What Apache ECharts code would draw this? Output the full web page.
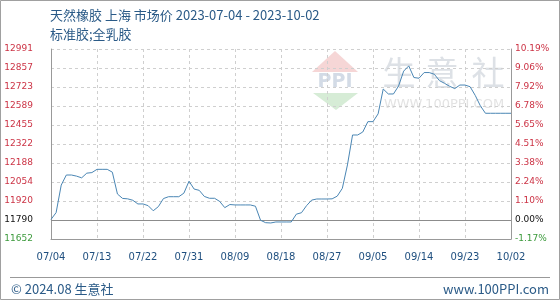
<!DOCTYPE html>
<html>
<head>
<meta charset="utf-8">
<script src="https://cdn.jsdelivr.net/npm/echarts@6/dist/echarts.min.js"></script>
<style>
html,body{margin:0;padding:0;background:#fff;}
#chart{width:560px;height:300px;}
</style>
</head>
<body>
<div id="chart"></div>
<script>
// ---- data ----
const dates = [
 '07/04','07/05','07/06','07/07','07/08','07/09','07/10','07/11','07/12','07/13','07/14','07/15','07/16','07/17','07/18','07/19','07/20','07/21','07/22','07/23','07/24','07/25','07/26','07/27','07/28','07/29','07/30','07/31',
 '08/01','08/02','08/03','08/04','08/05','08/06','08/07','08/08','08/09','08/10','08/11','08/12','08/13','08/14','08/15','08/16','08/17','08/18','08/19','08/20','08/21','08/22','08/23','08/24','08/25','08/26','08/27','08/28','08/29','08/30','08/31',
 '09/01','09/02','09/03','09/04','09/05','09/06','09/07','09/08','09/09','09/10','09/11','09/12','09/13','09/14','09/15','09/16','09/17','09/18','09/19','09/20','09/21','09/22','09/23','09/24','09/25','09/26','09/27','09/28','09/29','09/30',
 '10/01','10/02'
];
const prices = [
 11790,11838,12032,12103,12103,12095,12083,12116,12120,12143,12143,12143,12123,11969,11938,11935,11925,11899,11899,11887,
 11851,11880,11937,11950,11950,11950,11975,12059,12004,11995,11952,11939,11939,11917,11873,11895,11892,11892,11892,11892,
 11883,11784,11767,11765,11772,11772,11772,11772,11827,11837,11887,11926,11934,11934,11934,11935,11954,12009,12174,12385,
 12385,12406,12479,12479,12534,12709,12674,12674,12730,12835,12872,12790,12785,12825,12825,12813,12768,12749,12728,12712,
 12737,12737,12725,12664,12591,12538,12538,12538,12538,12538,12538
];
const leftLabels = ['11652','11790','11920','12054','12188','12322','12455','12589','12723','12857','12991'];
const rightLabels = ['-1.17%','0.00%','1.10%','2.24%','3.38%','4.51%','5.65%','6.78%','7.92%','9.06%','10.19%'];
const titleLine1 = '天然橡胶 上海 市场价 2023-07-04 - 2023-10-02';
const titleLine2 = '标准胶;全乳胶';
const footerLeft = '© 2024.08 生意社';
const footerRight = 'www.100PPI.com';

// ---- chart ----
const Y_MIN = +leftLabels[0];
const Y_MAX = +leftLabels[leftLabels.length - 1];
const STEP = (Y_MAX - Y_MIN) / (leftLabels.length - 1);
const seriesData = prices.map(p => p - Y_MIN);

const labelFont = 'DejaVu Sans';
function richFor(i, arr) {
  const c = i === 0 ? 'g' : (i === 1 ? 'k' : 'r');
  return '{' + c + '|' + arr[i] + '}';
}
const rich = {
  r: {color: '#cc3345', fontFamily: labelFont, fontSize: 9},
  k: {color: '#111111', fontFamily: labelFont, fontSize: 9},
  g: {color: '#3c9a3c', fontFamily: labelFont, fontSize: 9}
};
const gridDash = {color: '#cfcfcf', type: [3, 3], width: 1};

const chart = echarts.init(document.getElementById('chart'), null, {renderer: 'canvas'});
chart.setOption({
  animation: false,
  backgroundColor: '#fff',
  grid: {left: 51, right: 49, top: 49, bottom: 61},
  xAxis: {
    type: 'category', data: dates, boundaryGap: false,
    axisLine: {show: true, lineStyle: {color: '#999'}},
    axisTick: {show: false},
    axisLabel: {interval: 8, color: '#1f4f7f', fontFamily: labelFont, fontSize: 10, margin: 13},
    splitLine: {show: true, interval: 8, lineStyle: gridDash}
  },
  yAxis: [
    {
      type: 'value', min: 0, max: Y_MAX - Y_MIN, interval: STEP, position: 'left',
      axisLine: {show: true, lineStyle: {color: '#999'}},
      axisTick: {show: false},
      axisLabel: {align: 'right', margin: 18, formatter: v => richFor(Math.round(v / STEP), leftLabels), rich: rich},
      splitLine: {show: true, lineStyle: gridDash}
    },
    {
      type: 'value', min: 0, max: Y_MAX - Y_MIN, interval: STEP, position: 'right',
      axisLine: {show: true, lineStyle: {color: '#999'}},
      axisTick: {show: false},
      axisLabel: {align: 'left', margin: 4, formatter: v => richFor(Math.round(v / STEP), rightLabels), rich: rich},
      splitLine: {show: false}
    }
  ],
  series: [{
    type: 'line', data: seriesData, yAxisIndex: 0, showSymbol: false, symbol: 'none',
    lineStyle: {color: '#4a86b4', width: 1}, z: 5,
    markLine: {
      silent: true, symbol: 'none', label: {show: false},
      lineStyle: {color: '#8c8c8c', type: 'solid', width: 1},
      data: [{yAxis: STEP}]
    }
  }],
  graphic: [
    // watermark
    {type: 'polygon', z: 0, shape: {points: [[312, 72], [335, 51], [358, 72]]}, style: {fill: '#f6d6d6'}},
    {type: 'text', z: 0, style: {text: 'PPI', x: 335, y: 82, align: 'center', verticalAlign: 'middle', fontFamily: 'DejaVu Sans', fontWeight: 'bold', fontSize: 19, fill: '#d3dbe6'}},
    {type: 'polygon', z: 0, shape: {points: [[313, 93], [358, 93], [336, 110]]}, style: {fill: '#d6ecd6'}},
    {type: 'text', z: 0, style: {text: '生', x: 399, y: 72, align: 'center', verticalAlign: 'middle', fontFamily: 'Noto Sans CJK SC', fontSize: 33, fill: '#dde1e6'}},
    {type: 'text', z: 0, style: {text: '意', x: 442, y: 72, align: 'center', verticalAlign: 'middle', fontFamily: 'Noto Sans CJK SC', fontSize: 33, fill: '#dde1e6'}},
    {type: 'text', z: 0, style: {text: '社', x: 488, y: 72, align: 'center', verticalAlign: 'middle', fontFamily: 'Noto Sans CJK SC', fontSize: 33, fill: '#dde1e6'}},
    {type: 'text', z: 0, style: {text: 'WWW.100PPI.COM', x: 444, y: 105, align: 'center', verticalAlign: 'middle', fontFamily: 'DejaVu Sans', fontSize: 13, fill: '#e3e3e3'}},
    // titles
    {type: 'text', style: {text: titleLine1, x: 50, y: 15, verticalAlign: 'middle', fontFamily: 'Noto Sans CJK SC', fontSize: 13, fill: '#2a5a87'}},
    {type: 'text', style: {text: titleLine2, x: 50, y: 34, verticalAlign: 'middle', fontFamily: 'Noto Sans CJK SC', fontSize: 13, fill: '#2a5a87'}},
    // footer
    {type: 'line', shape: {x1: 10, y1: 277.5, x2: 550, y2: 277.5}, style: {stroke: '#999', lineWidth: 1}},
    {type: 'text', style: {text: footerLeft, x: 11, y: 289, verticalAlign: 'middle', fontFamily: 'Noto Sans CJK SC', fontSize: 13, fill: '#2a5a87'}},
    {type: 'text', style: {text: footerRight, x: 549, y: 289, align: 'right', verticalAlign: 'middle', fontFamily: 'Noto Sans CJK SC', fontSize: 13, fill: '#2a5a87'}},
    // outer frame
    {type: 'rect', shape: {x: 0.5, y: 0.5, width: 559, height: 299}, style: {fill: 'none', stroke: '#a0a0a0', lineWidth: 1}}
  ]
});
</script>
</body>
</html>
